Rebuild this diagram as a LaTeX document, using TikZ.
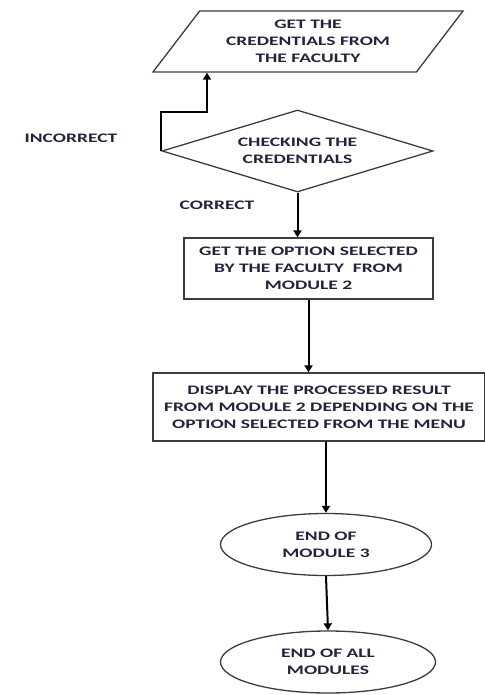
\documentclass[tikz,border=0pt]{standalone}
\usepackage{fontspec}
\setmainfont{Carlito}
\newfontfamily\flowfont[FakeStretch=1.5]{Carlito}
\usetikzlibrary{shapes.geometric,arrows.meta}
\definecolor{txtcol}{RGB}{35,35,62}
\definecolor{edgecol}{RGB}{60,60,60}

\begin{document}
\begin{tikzpicture}[x=1pt, y=-1pt]
        \tikzstyle{flow}=[draw=edgecol, line width=1.3pt, align=center, text=txtcol, inner sep=2pt,
                          font=\flowfont\bfseries\fontsize{13}{17}\selectfont]
        \tikzstyle{io}=[flow, trapezium, trapezium left angle=45, trapezium right angle=135,
                        trapezium stretches body, minimum width=310, minimum height=61]
        \tikzstyle{decision}=[flow, diamond, aspect=3.3, minimum width=271, minimum height=82, inner sep=0pt]
        \tikzstyle{process}=[flow, rectangle]
        \tikzstyle{terminal}=[flow, ellipse, minimum height=62]
        \tikzstyle{lbl}=[text=txtcol, font=\flowfont\bfseries\fontsize{13}{17}\selectfont]
        \tikzstyle{arr}=[-{Triangle[length=7pt, width=8pt]}, line width=2pt, black]

        \useasboundingbox (0,0) rectangle (484,695);

        % Login part
        \node[io] (cred) at (308,41.5) {GET THE\\CREDENTIALS FROM\\THE FACULTY};
        \node[decision] (chk) at (297.5,151) {CHECKING THE\\CREDENTIALS};
        \node[lbl] (inc) at (71,138) {INCORRECT};
        \node[lbl] (cor) at (217,205) {CORRECT};

        % Menu part
        \node[process, minimum width=249, minimum height=61] (opt) at (308.5,268.5)
            {GET THE OPTION SELECTED\\BY THE FACULTY\ \ FROM\\MODULE 2};
        \node[process, minimum width=332, minimum height=68] (disp) at (319,407)
            {DISPLAY THE PROCESSED RESULT\\FROM MODULE 2 DEPENDING ON THE\\OPTION SELECTED FROM THE MENU};

        % End
        \node[terminal, minimum width=211] (end1) at (326,544.5) {END OF\\MODULE 3};
        \node[terminal, minimum width=215] (end2) at (328,662) {END OF ALL\\MODULES};

        % Connectors
        \coordinate (bend) at (207,112);
        \draw[arr] (chk.west) |- (bend) -- (bend |- cred.south);
        \draw[arr] (chk.south) -- (chk.south |- opt.north);
        \draw[arr] (opt.south) -- (opt.south |- disp.north);
        \draw[arr] (end1.north |- disp.south) -- (end1.north);
        \draw[arr] (end1.south) -- (end2.north);
    \end{tikzpicture}
\end{document}
